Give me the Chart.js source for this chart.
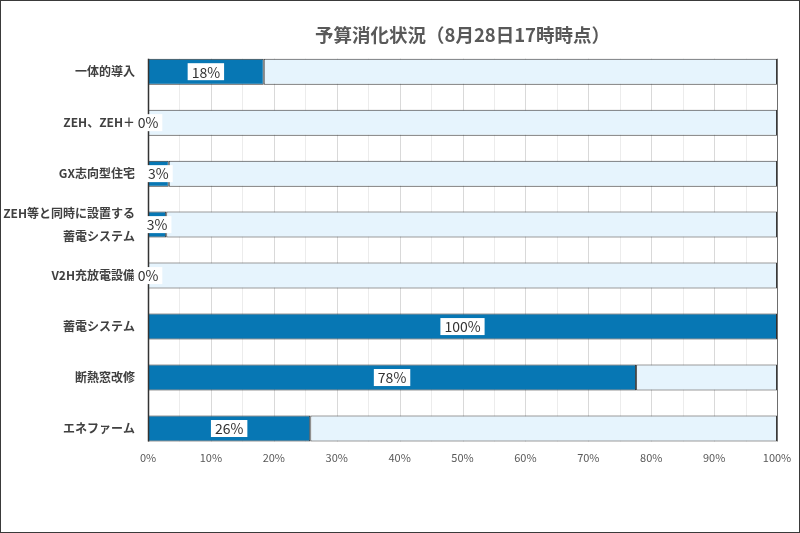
<!DOCTYPE html>
<html>
<head>
<meta charset="utf-8">
<script src="https://cdn.jsdelivr.net/npm/chart.js@4"></script>
<style>
html,body{margin:0;padding:0;background:#fff;}
#wrap{width:800px;height:533px;border:1px solid #3a3a3a;box-sizing:border-box;position:relative;}
canvas{display:block;}
</style>
</head>
<body>
<div id="wrap"><canvas id="c" width="798" height="531"></canvas></div>
<script>
const categories = ["一体的導入", "ZEH、ZEH＋", "GX志向型住宅", ["ZEH等と同時に設置する", "蓄電システム"], "V2H充放電設備", "蓄電システム", "断熱窓改修", "エネファーム"];
const consumed = [18.4, 0, 3.3, 2.9, 0, 100, 77.6, 25.8];
const pctLabels = ["18%", "0%", "3%", "3%", "0%", "100%", "78%", "26%"];
const xTicks = [0, 10, 20, 30, 40, 50, 60, 70, 80, 90, 100];
const titleText = "予算消化状況（8月28日17時時点）";

const FONT = '"Noto Sans CJK JP", "Noto Sans", sans-serif';
const remaining = consumed.map(v => 100 - v);

// grid lines + left axis limited to the span of the bars
const gridPlugin = {
  id: 'barSpanGrid',
  beforeDatasetsDraw(chart) {
    const ctx = chart.ctx;
    const xs = chart.scales.x;
    const bars = chart.getDatasetMeta(1).data;
    const first = bars[0], last = bars[bars.length - 1];
    const top = first.y - first.height / 2;
    const bottom = last.y + last.height / 2;
    ctx.save();
    ctx.lineWidth = 1;
    for (let v = 5; v <= 100; v += 5) {
      const x = Math.round(xs.getPixelForValue(v)) + 0.5;
      ctx.strokeStyle = v === 100 ? '#6e6e6e' : (v % 10 === 0 ? '#d9d9d9' : '#ececec');
      ctx.beginPath();
      ctx.moveTo(x, top);
      ctx.lineTo(x, bottom);
      ctx.stroke();
    }
    ctx.restore();
  },
  afterDatasetsDraw(chart) {
    const ctx = chart.ctx;
    const xs = chart.scales.x;
    const bars = chart.getDatasetMeta(1).data;
    const first = bars[0], last = bars[bars.length - 1];
    const top = first.y - first.height / 2;
    const bottom = last.y + last.height / 2;
    const x = Math.round(xs.getPixelForValue(0)) + 0.5;
    ctx.save();
    ctx.strokeStyle = '#333333';
    ctx.lineWidth = 1.5;
    ctx.beginPath();
    ctx.moveTo(x, top);
    ctx.lineTo(x, bottom);
    ctx.stroke();
    ctx.restore();
  }
};

const labelPlugin = {
  id: 'pctLabels',
  afterDatasetsDraw(chart) {
    const ctx = chart.ctx;
    const meta = chart.getDatasetMeta(0);
    ctx.save();
    ctx.font = '14px ' + FONT;
    ctx.textAlign = 'center';
    ctx.textBaseline = 'middle';
    meta.data.forEach((bar, i) => {
      const t = pctLabels[i];
      const cx = (bar.base + bar.x) / 2;
      const cy = bar.y;
      const w = ctx.measureText(t).width + 8;
      ctx.fillStyle = '#ffffff';
      ctx.fillRect(cx - w / 2, cy - 8.5, w, 17);
      ctx.fillStyle = '#333333';
      ctx.fillText(t, cx, cy + 0.5);
    });
    ctx.restore();
  }
};

new Chart(document.getElementById('c'), {
  type: 'bar',
  data: {
    labels: categories,
    datasets: [
      {
        data: consumed,
        backgroundColor: '#0777b4',
        borderColor: '#2f2f2f',
        borderWidth: 1,
        borderSkipped: false,
        categoryPercentage: 1,
        barPercentage: 0.51
      },
      {
        data: remaining,
        backgroundColor: '#e6f4fd',
        borderColor: '#3a3a3a',
        borderWidth: 1,
        borderSkipped: false,
        categoryPercentage: 1,
        barPercentage: 0.51
      }
    ]
  },
  options: {
    indexAxis: 'y',
    responsive: false,
    animation: false,
    layout: {padding: {left: 0, right: 22, top: 0, bottom: 0}},
    plugins: {
      legend: {display: false},
      tooltip: {enabled: false},
      title: {
        display: true,
        text: titleText,
        fullSize: false,
        color: '#595959',
        font: {family: FONT, size: 18.5, weight: 'bold'},
        padding: {top: 23, bottom: 0}
      }
    },
    scales: {
      x: {
        type: 'linear',
        stacked: true,
        min: 0,
        max: 100,
        afterBuildTicks(scale) {
          scale.ticks = xTicks.map(v => ({value: v}));
        },
        afterFit(scale) { scale.height = 78; scale.paddingLeft = 0; scale.paddingRight = 0; },
        ticks: {
          autoSkip: false,
          maxRotation: 0,
          padding: -3,
          color: '#595959',
          font: {family: FONT, size: 11},
          callback: v => v + '%'
        },
        grid: {display: false, drawTicks: false},
        border: {display: false}
      },
      y: {
        type: 'category',
        stacked: true,
        offset: true,
        afterFit(scale) { scale.width = 147; },
        ticks: {
          autoSkip: false,
          padding: 13,
          color: '#404040',
          font: {family: FONT, size: 12, weight: 'bold', lineHeight: 1.9}
        },
        grid: {display: false, drawTicks: false},
        border: {display: false}
      }
    }
  },
  plugins: [gridPlugin, labelPlugin]
});
</script>
</body>
</html>
